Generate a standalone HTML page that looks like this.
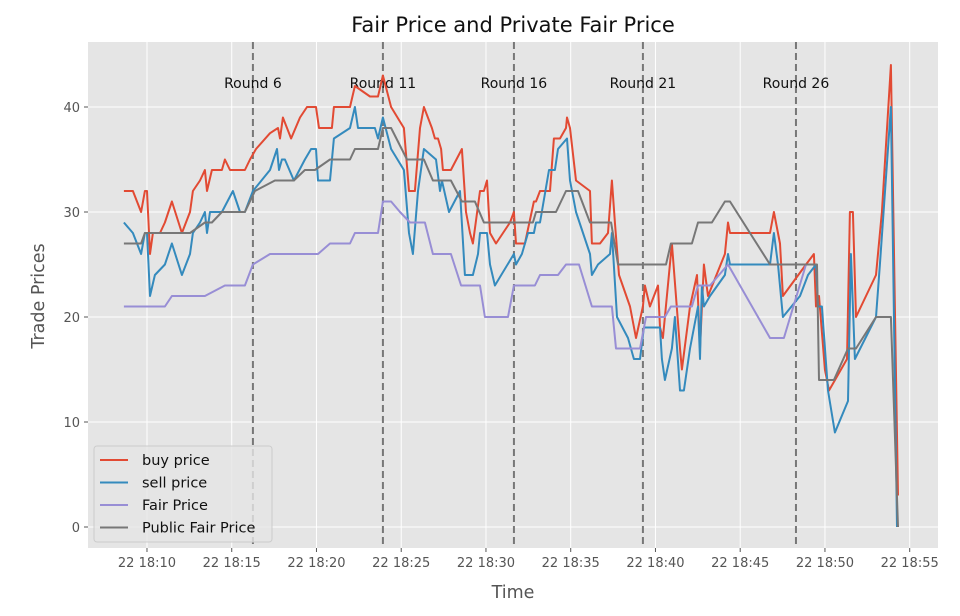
<!DOCTYPE html>
<html><head><meta charset="utf-8">
<style>
html,body{margin:0;padding:0;background:#fff;}
svg{display:block;font-family:"DejaVu Sans","Liberation Sans",sans-serif;}
</style></head>
<body>
<svg id="chart" width="960" height="616" viewBox="0 0 960 616" xmlns="http://www.w3.org/2000/svg">
<text x="513" y="32" text-anchor="middle" font-size="21" fill="#111">Fair Price and Private Fair Price</text>
<rect x="88" y="42" width="850" height="506" fill="#e5e5e5"/>
<g id="grid"></g>
<g id="rounds"></g>
<g id="series"></g>
<g id="ticks"></g>
<text transform="translate(44,296) rotate(-90)" text-anchor="middle" font-size="17.5" fill="#555">Trade Prices</text>
<text x="513" y="598" text-anchor="middle" font-size="17.5" fill="#555">Time</text>
<g id="legend"></g>
</svg>
<script>
// times in minutes after 18:00, values in price units
const buyT=[8.64,9.17,9.65,9.88,10,10.18,10.35,10.77,11.06,11.47,12.06,12.54,12.71,13.13,13.42,13.54,13.83,14.42,14.6,14.9,15.78,16.08,16.43,17.26,17.73,17.85,18.02,18.5,19.03,19.44,19.97,20.15,20.91,21.03,21.98,22.27,23.16,23.63,23.92,24.4,25.16,25.46,25.81,26.11,26.34,26.81,26.99,27.17,27.35,27.46,27.93,28.58,28.82,29.06,29.23,29.65,29.88,30.06,30.24,30.59,31.42,31.65,31.77,32.3,32.83,32.95,33.19,33.78,34.01,34.37,34.72,34.78,34.96,35.31,36.14,36.25,36.73,37.2,37.43,37.61,37.85,38.5,38.85,39.26,39.38,39.67,40.15,40.27,40.44,40.97,41.45,41.56,42.04,42.45,42.63,42.86,43.1,44.1,44.28,44.4,46.76,46.99,47.35,47.52,48.88,49.35,49.47,49.65,50,50.24,51.3,51.47,51.65,51.83,53.01,53.36,53.89,54.31];
const buyV=[32,32,30,32,32,26,28,28,29,31,28,30,32,33,34,32,34,34,35,34,34,35,36,37.5,38,37,39,37,39,40,40,38,38,40,40,42,41,41,43,40,38,32,32,38,40,38,37,37,36,34,34,36,30,28,27,32,32,33,28,27,29,30,27,27,31,31,32,32,37,37,38,39,38,33,32,27,27,28,33,29,24,21,18,21,23,21,23,19,18,27,17,15,21,24,17,25,22,26,29,28,28,30,27,22,25,26,21,22,15,13,16,30,30,20,24,30,44,3];
const sellT=[8.64,9.17,9.65,9.88,10,10.18,10.47,11.06,11.47,12.06,12.54,12.71,13.13,13.42,13.54,13.72,14.42,15.07,15.49,15.78,16.25,17.26,17.67,17.79,17.96,18.14,18.67,19.32,19.68,19.97,20.09,20.8,21.03,21.98,22.27,22.45,23.45,23.63,23.92,24.4,25.16,25.46,25.69,25.99,26.34,27.05,27.29,27.4,27.82,28.47,28.76,29.23,29.53,29.65,30.06,30.24,30.53,31.65,31.77,32.12,32.48,32.83,32.95,33.19,33.72,34.07,34.25,34.78,34.96,35.31,36.14,36.25,36.61,37.32,37.43,37.73,38.38,38.73,39.09,39.32,40.27,40.38,40.56,40.97,41.15,41.45,41.68,42.04,42.51,42.63,42.74,42.86,43.22,44.1,44.28,44.4,46.76,46.99,47.23,47.52,48.53,49,49.47,49.59,49.82,50.18,50.59,51.36,51.53,51.77,53.01,53.24,53.89,54.25];
const sellV=[29,28,26,28,28,22,24,25,27,24,26,28,29,30,28,30,30,32,30,30,32,34,36,34,35,35,33,35,36,36,33,33,37,38,40,38,38,37,39,36,34,28,26,32,36,35,32,33,30,32,24,24,26,28,28,25,23,26,25,26,28,28,29,29,34,34,36,37,33,30,26,24,25,26,28,20,18,16,16,19,19,16,14,17,20,13,13,17,21,16,23,21,22,24,26,25,25,28,25,20,22,24,25,21,21,13,9,12,26,16,20,25,40,0];
const fairT=[8.64,11.06,11.47,13.42,14.6,15.78,16.25,17.26,20.09,20.8,21.98,22.27,23.63,23.92,24.4,24.93,25.52,26.4,26.87,27.93,28.53,29.65,29.94,31.3,31.65,32.89,33.19,34.25,34.72,35.49,36.25,37.43,37.67,39.09,39.44,40.56,40.91,42.15,42.51,43.22,44.28,46.76,47.58,48.88,49.53];
const fairV=[21,21,22,22,23,23,25,26,26,27,27,28,28,31,31,30,29,29,26,26,23,23,20,20,23,23,24,24,25,25,21,21,17,17,20,20,21,21,23,23,25,18,18,25,25];
const pubT=[8.64,9.65,9.88,12.54,13.42,13.83,14.42,15.78,16.37,17.55,18.67,19.32,19.91,20.8,21.98,22.27,23.63,23.92,24.4,25.34,26.34,26.87,27.93,28.58,29.35,29.88,32.77,32.95,34.13,34.72,35.43,36.14,37.38,37.79,40.62,40.91,42.15,42.51,43.33,44.1,44.4,46.76,49.53,49.65,50.53,51.36,51.83,53.01,53.89,54.31];
const pubV=[27,27,28,28,29,29,30,30,32,33,33,34,34,35,35,36,36,38,38,35,35,33,33,31,31,29,29,30,30,32,32,29,29,25,25,27,27,29,29,31,31,25,25,14,14,17,17,20,20,0];
const roundT=[16.25,23.92,31.65,39.26,48.29];
const roundLabels=["Round 6","Round 11","Round 16","Round 21","Round 26"];
const xTicks=[10,15,20,25,30,35,40,45,50,55];
const xTickLabels=["22 18:10","22 18:15","22 18:20","22 18:25","22 18:30","22 18:35","22 18:40","22 18:45","22 18:50","22 18:55"];
const yTicks=[0,10,20,30,40];

const NS="http://www.w3.org/2000/svg";
const X0=88,X1=938,Y0=42,Y1=548,TMIN=6.52,TMAX=56.67,VMIN=-2.0,VMAX=46.19;
function sx(t){return X0+(t-TMIN)/(TMAX-TMIN)*(X1-X0);}
function sy(v){return Y1-(v-VMIN)/(VMAX-VMIN)*(Y1-Y0);}
function mk(tag,attrs,parent){const e=document.createElementNS(NS,tag);for(const k in attrs)e.setAttribute(k,attrs[k]);parent.appendChild(e);return e;}
const grid=document.getElementById('grid'),ticks=document.getElementById('ticks');
xTicks.forEach((t,i)=>{
  const l=mk('line',{x1:sx(t),x2:sx(t),y1:Y0,y2:Y1,stroke:'#fff','stroke-width':1},grid);
  
  
  const tk=mk('line',{x1:sx(t),x2:sx(t),y1:Y1,y2:Y1+4,stroke:'#555'},ticks);
  
  
  const tx=mk('text',{x:sx(t),y:Y1+19,'text-anchor':'middle','font-size':13,fill:'#555'},ticks);
  tx.textContent=xTickLabels[i];
  
  
});
yTicks.forEach(v=>{
  const l=mk('line',{x1:X0,x2:X1,y1:sy(v),y2:sy(v),stroke:'#fff','stroke-width':1},grid);
  
  
  const tk=mk('line',{x1:X0-4,x2:X0,y1:sy(v),y2:sy(v),stroke:'#555'},ticks);
  
  
  const tx=mk('text',{x:X0-8,y:sy(v)+5,'text-anchor':'end','font-size':13,fill:'#555'},ticks);
  tx.textContent=String(v);
  
  
});
const series=document.getElementById('series');
function line(T,V,color,name){
  const d=T.map((t,i)=>(i?'L':'M')+sx(t).toFixed(1)+','+sy(V[i]).toFixed(1)).join('');
  const p=mk('path',{d:d,fill:'none',stroke:color,'stroke-width':2,'stroke-linejoin':'round'},series);
  
  
}
line(buyT,buyV,'#e24a33','buy-price-line');
line(sellT,sellV,'#348abd','sell-price-line');
line(fairT,fairV,'#988ed5','fair-price-line');
line(pubT,pubV,'#777777','public-fair-price-line');
const rounds=document.getElementById('rounds');
roundT.forEach((t,i)=>{
  const l=mk('line',{x1:sx(t),x2:sx(t),y1:Y0,y2:Y1,stroke:'#777','stroke-width':2,'stroke-dasharray':'7,4'},rounds);
  
  
  const tx=mk('text',{x:sx(t),y:88,'text-anchor':'middle','font-size':14,fill:'#111'},rounds);
  tx.textContent=roundLabels[i];
  
  
});
const lg=document.getElementById('legend');
mk('rect',{x:94,y:446,width:178,height:96,rx:3,fill:'#e5e5e5',stroke:'#ccc','fill-opacity':0.8},lg);
const lgNames=["buy price","sell price","Fair Price","Public Fair Price"];
const lgColors=['#e24a33','#348abd','#988ed5','#777777'];
lgNames.forEach((n,i)=>{
  const y=460+i*22.5;
  const l=mk('line',{x1:100,x2:128,y1:y,y2:y,stroke:lgColors[i],'stroke-width':2},lg);
  
  
  const tx=mk('text',{x:142,y:y+5,'font-size':14.5,fill:'#111'},lg);
  tx.textContent=n;
  
  
});
</script>
</body></html>
